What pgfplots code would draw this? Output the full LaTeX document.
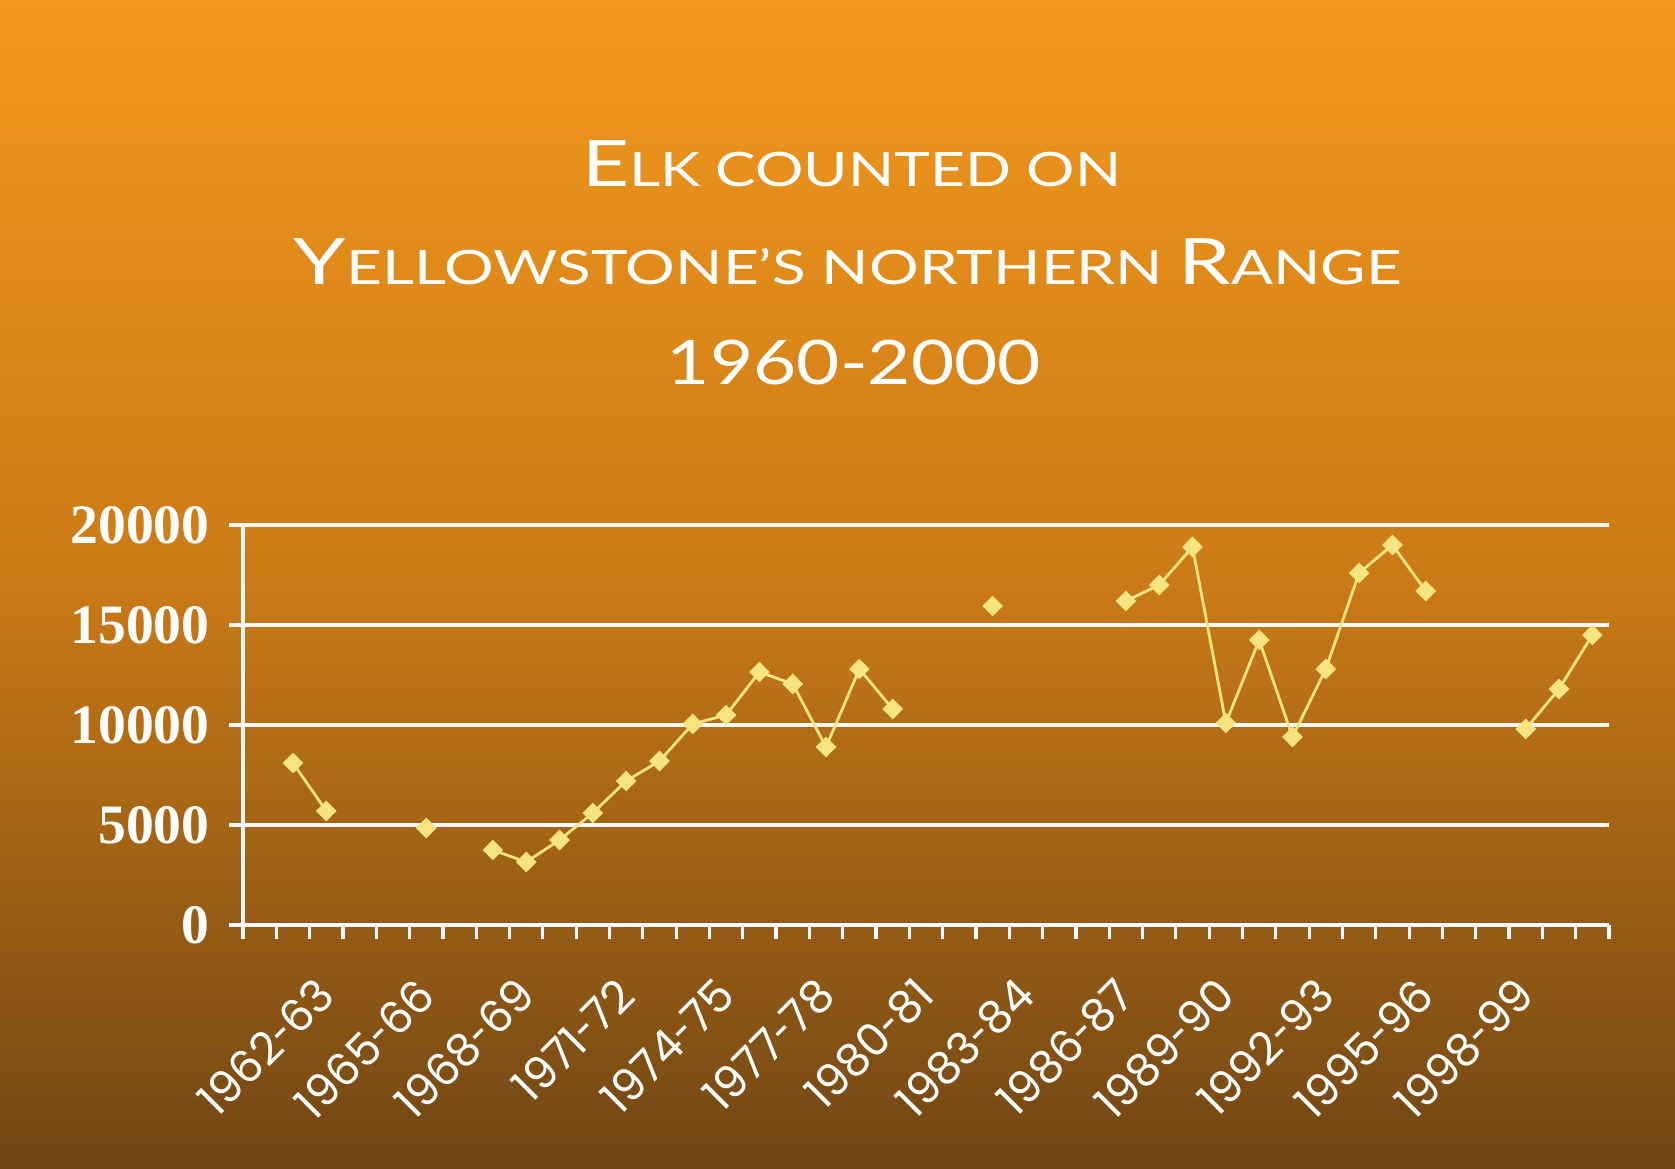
\documentclass[border=0pt]{standalone}
\usepackage{fontspec}
\usepackage{graphicx}
\usepackage{pgfplots}
\usepackage{pgfplotstable}
\pgfplotsset{compat=1.18}
\setmainfont{Liberation Serif}
\newfontfamily\titlefont{Lato}
\newfontfamily\xfont{Poppins}
\newfontfamily\yfont{Liberation Serif}
\definecolor{bgtop}{RGB}{242,152,30}
\definecolor{bgmid}{RGB}{202,122,22}
\definecolor{bgbot}{RGB}{112,70,20}
\definecolor{elk}{RGB}{246,228,128}
\definecolor{gridc}{RGB}{252,248,255}

\pgfplotstableread{
x y
0 nan
1 8100
2 5700
3 nan
4 nan
5 4850
6 nan
7 3750
8 3150
9 4250
10 5600
11 7200
12 8200
13 10050
14 10500
15 12650
16 12050
17 8900
18 12800
19 10800
20 nan
21 nan
22 15950
23 nan
24 nan
25 nan
26 16200
27 17000
28 18900
29 10100
30 14250
31 9400
32 12800
33 17600
34 19000
35 16700
36 nan
37 nan
38 9800
39 11800
40 14500
}\elkdata

\newcommand\BigC[1]{{\fontsize{32}{36}\selectfont #1}}
\newcommand\SmC[1]{{\fontsize{23.7}{28}\selectfont #1}}
\newcommand\hy{\scalebox{0.7}[1]{-}}

\begin{document}
\begin{tikzpicture}
\shade[top color=bgtop, bottom color=bgbot, middle color=bgmid] (0,0) rectangle (837.5pt,584pt);
\node[anchor=base, inner sep=0pt, text=white] at (425.75pt,490.5pt)
  {\resizebox{269.5pt}{\height}{\titlefont\BigC{E}\SmC{LK COUNTED ON}}};
\node[anchor=base, inner sep=0pt, text=white] at (424pt,441.5pt)
  {\resizebox{554pt}{\height}{\titlefont\BigC{Y}\SmC{ELLOWSTONE’S NORTHERN }\BigC{R}\SmC{ANGE}}};
\node[anchor=base, inner sep=0pt, text=white] at (427pt,391.75pt)
  {\resizebox{187pt}{\height}{\titlefont{\fontsize{30.7}{34}\selectfont 1960-2000}}};
\begin{axis}[
  at={(121.5pt,121.5pt)}, anchor=south west,
  scale only axis, width=683pt, height=200pt,
  xmin=-0.5, xmax=40.5, ymin=0, ymax=20000,
  axis x line=bottom, axis y line=left,
  axis line style={draw=gridc, line width=1.8pt, -},
  ymajorgrids, grid style={draw=gridc, line width=2.2pt},
  ytick={0,5000,10000,15000,20000},
  scaled y ticks=false,
  xtick={-0.5,0.5,...,40.5},
  xticklabels={},
  extra x ticks={2,5,...,38},
  extra x tick labels={1962\hy63,1965\hy66,1968\hy69,1971\hy72,1974\hy75,1977\hy78,1980\hy81,1983\hy84,1986\hy87,1989\hy90,1992\hy93,1995\hy96,1998\hy99},
  extra x tick style={major tick length=0pt, xticklabel shift=31pt},
  tick align=outside,
  major tick length=7pt,
  tick style={draw=gridc, line width=1.6pt},
  xticklabel style={font=\xfont\fontsize{22.5}{25}\selectfont, text=white, inner sep=0pt, anchor=east, rotate=45},
  yticklabel style={font=\yfont\bfseries\fontsize{27.8}{30}\selectfont, text=white, inner sep=0pt, anchor=east},
  yticklabel shift=9.5pt,
  /pgf/number format/1000 sep={},
  /pgf/number format/assume math mode=true,
  clip=false,
]
\addplot[color=elk, line width=1.4pt, mark=square*, mark size=3.4pt,
  mark options={rotate=45, fill=elk, draw=elk, line width=0.5pt},
  unbounded coords=jump] table[x=x,y=y] {\elkdata};
\end{axis}
\pgfresetboundingbox
\path[use as bounding box] (0,0) rectangle (837.5pt,584pt);
\end{tikzpicture}
\end{document}
